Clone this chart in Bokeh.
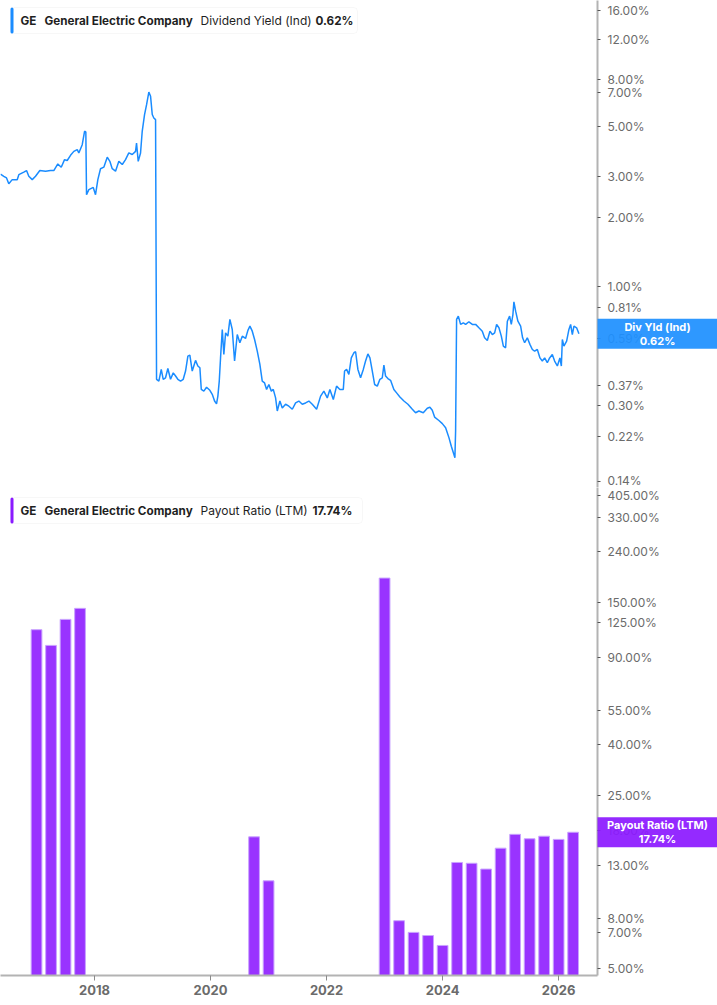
from bokeh.plotting import figure
from bokeh.layouts import column, row
from bokeh.models import (Range1d, FixedTicker, CustomJSTickFormatter,
                          Label, BoxAnnotation)
from bokeh.embed import file_html
from bokeh.resources import INLINE

# GE dividend yield (indicated), %, decimal years
yield_t = [2016.379, 2016.436, 2016.483, 2016.522, 2016.581, 2016.667, 2016.695, 2016.781,
           2016.828, 2016.867, 2016.926, 2016.983, 2017.057, 2017.155, 2017.241, 2017.298,
           2017.367, 2017.426, 2017.483, 2017.529, 2017.586, 2017.643, 2017.702, 2017.729,
           2017.788, 2017.828, 2017.850, 2017.862, 2017.902, 2017.978, 2018.017, 2018.057,
           2018.103, 2018.160, 2018.219, 2018.264, 2018.305, 2018.362, 2018.419, 2018.478,
           2018.534, 2018.591, 2018.650, 2018.707, 2018.724, 2018.753, 2018.793, 2018.822,
           2018.862, 2018.897, 2018.936, 2018.966, 2018.995, 2019.022, 2019.052, 2019.069,
           2019.109, 2019.150, 2019.184, 2019.224, 2019.264, 2019.310, 2019.357, 2019.397,
           2019.436, 2019.483, 2019.529, 2019.569, 2019.609, 2019.643, 2019.684, 2019.741,
           2019.781, 2019.816, 2019.840, 2019.884, 2019.931, 2019.988, 2020.029, 2020.069,
           2020.103, 2020.126, 2020.150, 2020.172, 2020.202, 2020.229, 2020.259, 2020.298,
           2020.333, 2020.374, 2020.414, 2020.460, 2020.505, 2020.547, 2020.603, 2020.643,
           2020.678, 2020.719, 2020.759, 2020.805, 2020.850, 2020.891, 2020.931, 2020.966,
           2021.005, 2021.047, 2021.081, 2021.121, 2021.150, 2021.195, 2021.236, 2021.293,
           2021.350, 2021.409, 2021.466, 2021.522, 2021.581, 2021.638, 2021.695, 2021.753,
           2021.828, 2021.897, 2021.953, 2022.012, 2022.057, 2022.116, 2022.172, 2022.229,
           2022.288, 2022.310, 2022.345, 2022.384, 2022.426, 2022.471, 2022.500, 2022.540,
           2022.586, 2022.633, 2022.672, 2022.712, 2022.747, 2022.788, 2022.828, 2022.874,
           2022.919, 2022.960, 2022.988, 2023.017, 2023.057, 2023.103, 2023.160, 2023.207,
           2023.264, 2023.333, 2023.402, 2023.478, 2023.534, 2023.591, 2023.667, 2023.736,
           2023.781, 2023.822, 2023.862, 2023.936, 2023.995, 2024.052, 2024.109, 2024.150,
           2024.195, 2024.212, 2024.224, 2024.241, 2024.271, 2024.310, 2024.357, 2024.397,
           2024.453, 2024.512, 2024.569, 2024.626, 2024.684, 2024.724, 2024.771, 2024.816,
           2024.857, 2024.897, 2024.931, 2024.971, 2025.012, 2025.047, 2025.086, 2025.116,
           2025.155, 2025.184, 2025.212, 2025.229, 2025.259, 2025.298, 2025.345, 2025.379,
           2025.414, 2025.460, 2025.505, 2025.547, 2025.586, 2025.633, 2025.678, 2025.719,
           2025.759, 2025.805, 2025.845, 2025.891, 2025.931, 2025.978, 2026.022, 2026.047,
           2026.064, 2026.091, 2026.138, 2026.178, 2026.207, 2026.236, 2026.264, 2026.310,
           2026.350]
yield_v = [3.09, 3.02, 2.97, 2.80, 2.92, 2.92, 3.07, 3.15,
           3.20, 3.02, 2.92, 3.02, 3.20, 3.18, 3.20, 3.20,
           3.42, 3.31, 3.57, 3.54, 3.73, 3.88, 3.95, 3.82,
           4.15, 4.75, 4.72, 2.51, 2.64, 2.70, 2.51, 2.92,
           3.26, 3.31, 3.66, 3.51, 3.26, 3.18, 3.51, 3.40,
           3.57, 3.82, 3.76, 3.88, 4.22, 3.51, 3.82, 4.75,
           5.62, 6.21, 7.05, 6.75, 5.62, 5.43, 5.34, 0.392,
           0.385, 0.433, 0.392, 0.398, 0.437, 0.392, 0.418, 0.405,
           0.392, 0.385, 0.392, 0.426, 0.495, 0.500, 0.426, 0.474,
           0.448, 0.440, 0.354, 0.348, 0.362, 0.351, 0.337, 0.315,
           0.306, 0.331, 0.385, 0.486, 0.647, 0.503, 0.625, 0.605,
           0.716, 0.647, 0.471, 0.615, 0.566, 0.605, 0.591, 0.641,
           0.669, 0.636, 0.585, 0.520, 0.455, 0.385, 0.378, 0.354,
           0.372, 0.348, 0.354, 0.325, 0.285, 0.315, 0.294, 0.305,
           0.299, 0.290, 0.309, 0.315, 0.305, 0.309, 0.315, 0.305,
           0.290, 0.331, 0.348, 0.325, 0.354, 0.320, 0.366, 0.354,
           0.354, 0.426, 0.433, 0.412, 0.486, 0.512, 0.517, 0.433,
           0.398, 0.433, 0.471, 0.506, 0.486, 0.426, 0.372, 0.366,
           0.392, 0.398, 0.452, 0.405, 0.395, 0.388, 0.354, 0.342,
           0.328, 0.315, 0.305, 0.290, 0.280, 0.285, 0.280, 0.293,
           0.296, 0.287, 0.268, 0.259, 0.251, 0.241, 0.218, 0.200,
           0.184, 0.178, 0.233, 0.716, 0.740, 0.681, 0.692, 0.681,
           0.699, 0.681, 0.681, 0.658, 0.636, 0.595, 0.579, 0.636,
           0.615, 0.625, 0.681, 0.658, 0.605, 0.547, 0.538, 0.703,
           0.740, 0.681, 0.752, 0.854, 0.778, 0.703, 0.669, 0.595,
           0.566, 0.595, 0.557, 0.529, 0.520, 0.529, 0.486, 0.471,
           0.486, 0.463, 0.486, 0.503, 0.471, 0.448, 0.486, 0.448,
           0.585, 0.547, 0.575, 0.647, 0.681, 0.615, 0.669, 0.658,
           0.62]

# GE payout ratio (LTM), % - quarterly
payout_t = [2017.0, 2017.25, 2017.5, 2017.75, 2020.75, 2021.0,
            2023.0, 2023.25, 2023.5, 2023.75, 2024.0, 2024.25, 2024.5,
            2024.75, 2025.0, 2025.25, 2025.5, 2025.75, 2026.0, 2026.25]
payout_v = [116.4, 100.6, 128.1, 141.9, 17.0, 11.3,
            188.0, 7.8, 7.0, 6.8, 6.2, 13.4, 13.3,
            12.6, 15.3, 17.4, 16.7, 17.1, 16.6, 17.74]

yield_ticks = [16, 12, 8, 7, 5, 3, 2, 1, 0.81, 0.59, 0.37, 0.30, 0.22, 0.14]
payout_ticks = [405, 330, 240, 150, 125, 90, 55, 40, 25, 18, 13, 8, 7, 5]
year_ticks = [2018, 2020, 2022, 2024, 2026]

BLUE = "#1a8cff"
PURPLE = "#9933ff"
FONT = "Inter"
FW, RB = 597, 120
x_range = Range1d(2016.379, 2026.67)


def style_yaxis(p, ticks):
    ax = p.yaxis[0]
    ax.ticker = FixedTicker(ticks=ticks)
    ax.formatter = CustomJSTickFormatter(code="return tick.toFixed(2) + '%'")
    ax.axis_line_color = "#b3b3b3"
    ax.axis_line_width = 2
    ax.major_tick_out = 3
    ax.major_tick_in = 0
    ax.minor_tick_out = 0
    ax.minor_tick_in = 0
    ax.major_tick_line_color = "#555555"
    ax.major_label_standoff = 7
    ax.major_label_text_font = FONT
    ax.major_label_text_font_size = "12px"
    ax.major_label_text_color = "#6b6b6b"


def legend(p, fh, top, right, color, parts):
    kw = dict(left_units="screen", right_units="screen", top_units="screen",
              bottom_units="screen", top=fh - top, bottom=fh - top - 26)
    p.add_layout(BoxAnnotation(left=10, right=right, fill_color="white", fill_alpha=1,
                               line_color="#e4e4e4", line_width=1, border_radius=4, **kw))
    p.add_layout(BoxAnnotation(left=10, right=13, fill_color=color, fill_alpha=1,
                               line_color=None, border_radius=2, **kw))
    for x, txt, style in parts:
        p.add_layout(Label(x=x, y=fh - top - 13, x_units="screen", y_units="screen",
                           text=txt, text_font=FONT,
                           text_font_size="11.7px" if style == "bold" else "12px",
                           text_font_style=style, text_color="#1f1f1f",
                           text_baseline="middle"))


def value_box(p, fh, y_range, y, txt, color):
    # transparent strip laid over the axis area, sharing the panel's y scale
    b = figure(frame_width=RB, frame_height=fh, x_range=Range1d(0, 1), y_range=y_range,
               y_axis_type="log", x_axis_location=None, y_axis_location=None,
               output_backend="svg", toolbar_location=None, tools="", min_border=0,
               background_fill_color=None, border_fill_color=None, outline_line_color=None)
    b.grid.visible = False
    b.add_layout(Label(x=RB / 2, y=y, x_units="screen", text=txt,
                       text_font=FONT, text_font_size="11px", text_font_style="bold",
                       text_color="white", text_align="center", text_baseline="middle",
                       text_line_height=1.0,
                       background_fill_color=color, background_fill_alpha=0.93,
                       padding=dict(left=70, right=70, top=1, bottom=1)))
    b.margin = (0, 0, 0, -RB)
    return row(p, b, spacing=0)


# top: dividend yield
H1 = 487
p1 = figure(frame_width=FW, frame_height=H1, x_range=x_range, y_range=Range1d(0.132, 17.7),
            y_axis_type="log", y_axis_location="right", output_backend="svg",
            toolbar_location=None, tools="", min_border_left=0, min_border_right=RB,
            min_border_top=0, min_border_bottom=0, background_fill_color="white")
p1.line(yield_t, yield_v, line_color=BLUE, line_width=1.5)
style_yaxis(p1, yield_ticks)
p1.xaxis.ticker = FixedTicker(ticks=[])
p1.xaxis.major_label_text_font_size = "0px"
p1.xaxis.major_label_standoff = 0
p1.xaxis.major_tick_out = 0
p1.xaxis.minor_tick_out = 0
p1.xaxis.axis_line_color = "#e3e3e3"
p1.grid.visible = False
p1.outline_line_color = None
legend(p1, H1, 7, 357, BLUE, [(20, "GE", "bold"), (44, "General Electric Company", "bold"),
                             (200, "Dividend Yield (Ind)", "normal"), (315, "0.62%", "bold")])
top = value_box(p1, H1, p1.y_range, 0.62, "Div Yld (Ind)\n0.62%", "#1e90ff")

# bottom: payout ratio
H2 = 488
p2 = figure(frame_width=FW, frame_height=H2, x_range=x_range, y_range=Range1d(4.69, 436),
            y_axis_type="log", y_axis_location="right", output_backend="svg",
            toolbar_location=None, tools="", min_border_left=0, min_border_right=RB,
            min_border_top=0, background_fill_color="white")
p2.vbar(x=payout_t, top=payout_v, bottom=1, width=0.185, fill_color=PURPLE,
        line_color="#c9a3ff", line_width=1)
style_yaxis(p2, payout_ticks)
xa = p2.xaxis[0]
xa.ticker = FixedTicker(ticks=year_ticks)
xa.axis_line_color = "#b3b3b3"
xa.axis_line_width = 2
xa.major_tick_out = 5
xa.major_tick_in = 0
xa.minor_tick_out = 0
xa.minor_tick_in = 0
xa.major_tick_line_color = "#8a8a8a"
xa.major_label_text_font = FONT
xa.major_label_text_font_size = "13px"
xa.major_label_text_font_style = "bold"
xa.major_label_text_color = "#6b6b6b"
xa.major_label_standoff = 4
p2.grid.visible = False
p2.outline_line_color = None
legend(p2, H2, 10, 362, "#8a1aff", [(20, "GE", "bold"), (44, "General Electric Company", "bold"),
                                   (200, "Payout Ratio (LTM)", "normal"), (312, "17.74%", "bold")])
bottom = value_box(p2, H2, p2.y_range, 17.74, "Payout Ratio (LTM)\n17.74%", "#8c1aff")

layout = column(top, bottom, spacing=0)
open("out.html", "w").write(file_html(layout, INLINE))
